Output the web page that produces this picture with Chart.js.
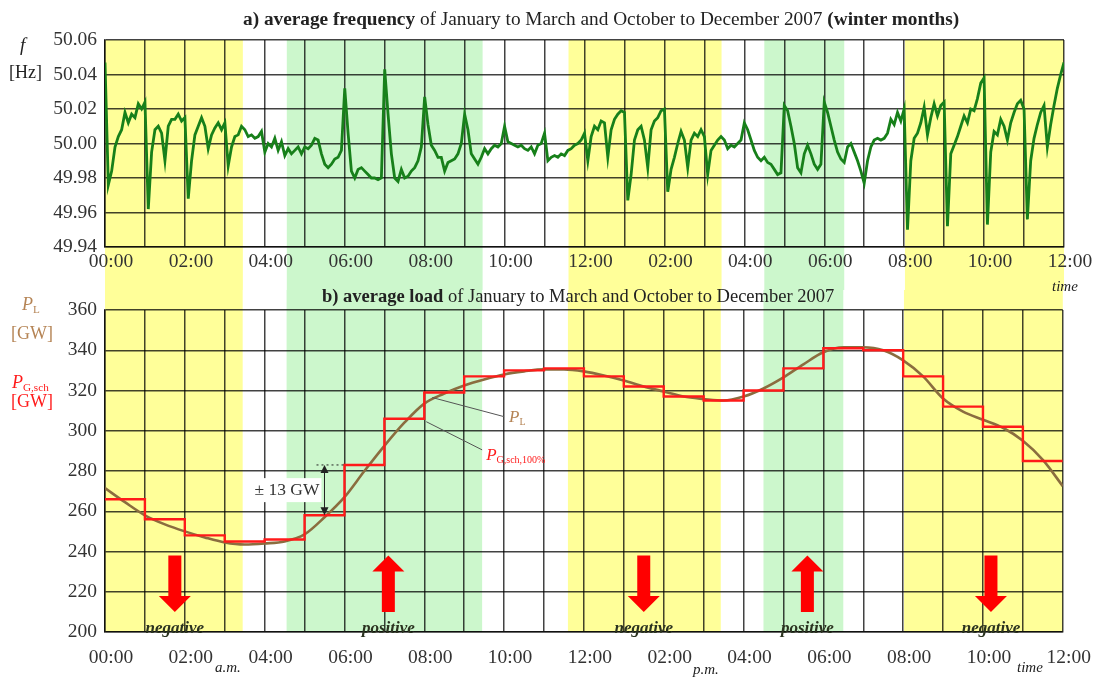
<!DOCTYPE html>
<html>
<head>
<meta charset="utf-8">
<title>Average frequency and load, winter months 2007</title>
<script src="https://cdn.jsdelivr.net/npm/chart.js@4/dist/chart.umd.min.js"></script>
<style>
  body { margin: 0; background: #fff; }
  #wrap { position: relative; width: 1099px; height: 677px; overflow: hidden; font-family: "Liberation Serif", "Times New Roman", serif; color: #222; }
  #wrap canvas { position: absolute; left: 0; }
  .lbl { position: absolute; white-space: nowrap; line-height: 1; }
  .it { font-style: italic; }
  sub { font-size: 62%; vertical-align: -0.3em; }
</style>
</head>
<body>
<div id="wrap">
  <canvas id="freqChart" width="1099" height="290" style="top:0"></canvas>
  <canvas id="loadChart" width="1099" height="387" style="top:290px"></canvas>

  <div class="lbl" style="left:243px;top:9px;font-size:19.3px"><b>a) average frequency</b> of January to March and October to December 2007 <b>(winter months)</b></div>
  <div class="lbl" style="left:322px;top:287px;font-size:18.5px"><b>b) average load</b> of January to March and October to December 2007</div>

  <div class="lbl it" style="left:20px;top:35px;font-size:19px">f</div>
  <div class="lbl" style="left:9px;top:63px;font-size:18px">[Hz]</div>
  <div class="lbl" style="left:22px;top:295px;font-size:18px;color:#b58455"><span class="it">P</span><sub>L</sub></div>
  <div class="lbl" style="left:11px;top:324px;font-size:18px;color:#b58455">[GW]</div>
  <div class="lbl" style="left:12px;top:373px;font-size:18px;color:#ff1a1a"><span class="it">P</span><sub>G,sch</sub></div>
  <div class="lbl" style="left:11px;top:392px;font-size:18px;color:#ff1a1a">[GW]</div>

  <div class="lbl it" style="left:1052px;top:279px;font-size:15px">time</div>
  <div class="lbl it" style="left:1017px;top:660px;font-size:15px">time</div>
  <div class="lbl it" style="left:215px;top:660px;font-size:15px">a.m.</div>
  <div class="lbl it" style="left:693px;top:662px;font-size:15px">p.m.</div>
</div>

<script>
// clock labels every two hours, midnight to midnight
const hourLabels = ["00:00", "02:00", "04:00", "06:00", "08:00", "10:00", "12:00",
                    "02:00", "04:00", "06:00", "08:00", "10:00", "12:00"];

// shaded periods (hours): yellow = negative reserve, green = positive reserve
const bandStart = [0, 4.55, 11.6, 16.5, 20.02];
const bandEnd   = [3.45, 9.45, 15.43, 18.5, 24];
const bandKind  = ["neg", "pos", "neg", "pos", "neg"];

// average frequency in Hz, one value every 5 minutes from 00:00 to 24:00
const freqStepMin = 5;
const freqValues = [
  50.047, 49.976, 49.984, 49.998, 50.004, 50.008, 50.018, 50.012, 50.017, 50.015, 50.023, 50.020, 50.024,
  49.962, 49.995, 50.008, 50.010, 50.006, 49.990, 50.010, 50.014, 50.014, 50.017, 50.013, 50.015,
  49.968, 49.990, 50.005, 50.010, 50.015, 50.010, 49.997, 50.005, 50.009, 50.012, 50.008, 50.012,
  49.987, 49.998, 50.004, 50.005, 50.010, 50.008, 50.004, 50.005, 50.003, 50.004, 50.007, 49.995,
  50.000, 49.998, 50.003, 49.996, 50.001, 49.993, 49.997, 49.994, 49.996, 49.998, 49.994, 49.998,
  49.997, 49.999, 50.003, 50.002, 49.994, 49.988, 49.986, 49.988, 49.991, 49.992, 49.996, 50.032,
  50.006, 49.984, 49.980, 49.985, 49.986, 49.984, 49.982, 49.980, 49.980, 49.979, 49.980, 50.043,
  50.017, 49.994, 49.980, 49.978, 49.985, 49.980, 49.981, 49.984, 49.986, 49.990, 49.998, 50.027,
  50.011, 49.999, 49.996, 49.992, 49.992, 49.984, 49.989, 49.990, 49.991, 49.994, 50.000, 50.017,
  50.008, 49.994, 49.991, 49.988, 49.992, 49.997, 49.994, 49.997, 49.999, 49.998, 50.000, 50.010,
  50.001, 50.000, 49.999, 49.998, 49.999, 49.997, 49.996, 49.998, 49.994, 49.999, 50.000, 50.006,
  49.990, 49.992, 49.993, 49.992, 49.994, 49.993, 49.996, 49.997, 49.999, 50.000, 50.002, 50.006,
  49.990, 50.004, 50.010, 50.008, 50.013, 50.012, 49.992, 50.008, 50.014, 50.017, 50.019, 50.018,
  49.967, 49.982, 50.002, 50.008, 50.010, 50.002, 49.986, 50.008, 50.013, 50.015, 50.019, 50.020,
  49.972, 49.985, 49.992, 50.000, 50.007, 50.002, 49.986, 50.002, 50.006, 50.004, 50.008, 50.004,
  49.982, 49.996, 49.999, 50.002, 50.004, 50.002, 49.997, 49.999, 49.998, 50.000, 50.002, 50.012,
  50.008, 50.002, 49.996, 49.992, 49.990, 49.992, 49.989, 49.988, 49.985, 49.982, 49.983, 50.022,
  50.019, 50.010, 50.000, 49.986, 49.983, 49.994, 49.999, 49.994, 49.988, 49.985, 49.988, 50.024,
  50.018, 50.010, 50.002, 49.995, 49.991, 49.989, 49.998, 50.000, 49.995, 49.990, 49.984, 49.977,
  49.990, 49.998, 50.002, 50.003, 50.002, 50.003, 50.006, 50.014, 50.011, 50.018, 50.013, 50.020,
  49.950, 49.990, 50.003, 50.006, 50.012, 50.021, 50.005, 50.015, 50.023, 50.016, 50.022, 50.024,
  49.952, 49.994, 49.999, 50.004, 50.010, 50.016, 50.012, 50.020, 50.019, 50.026, 50.035, 50.038,
  49.953, 49.995, 50.007, 50.005, 50.014, 50.010, 50.002, 50.012, 50.018, 50.023, 50.025, 50.020,
  49.956, 49.990, 50.003, 50.011, 50.018, 50.022, 49.998, 50.011, 50.022, 50.032, 50.040, 50.047
];

// average load P_L in GW, every half hour
const loadHours = [0, 0.5, 1, 1.5, 2, 2.5, 3, 3.5, 4, 4.5, 5, 5.5, 6, 6.5, 7, 7.5, 8, 8.5, 9, 9.5,
                   10, 10.5, 11, 11.5, 12, 12.5, 13, 13.5, 14, 14.5, 15, 15.5, 16, 16.5, 17, 17.5,
                   18, 18.5, 19, 19.5, 20, 20.5, 21, 21.5, 22, 22.5, 23, 23.5, 24];
const loadValues = [271.5, 264.5, 258, 253.5, 250, 247, 244.5, 243.5, 244, 245, 248.5, 257, 267, 280,
                    292.5, 304, 313.5, 318.5, 322.5, 325.5, 328, 329.5, 330.5, 330.5, 329.5, 327.5,
                    325, 322, 319.5, 317, 315.8, 315, 317, 321, 326.5, 333, 339, 341.5, 341.5, 340,
                    335, 327, 316, 309.5, 305.5, 301.5, 295, 285.5, 272.5];

// scheduled generation P_G,sch,100% in GW, one block per hour (00-01 ... 23-24)
const schedValues = [266, 256, 248, 245, 246, 258, 283, 306, 319, 327, 330, 331,
                     327, 322, 317, 315, 320, 331, 341, 340, 327, 312, 302, 285];

// reserve direction arrows and their captions
const arrowHours = [1.75, 7.1, 13.5, 17.6, 22.2];
const arrowDirs  = ["down", "up", "down", "up", "down"];
const arrowSpan  = [210, 238];            // GW range covered by each arrow
const arrowCaptions = ["negative", "positive", "negative", "positive", "negative"];

// +/- band around the schedule and curve leaders
const spreadHour = 5.5;
const leaderPL = [[8.2, 316.5], [10.0, 307]];
const leaderPG = [[8.05, 304.5], [9.45, 290.5]];

const SERIF = '"Liberation Serif", "Times New Roman", serif';
const YELLOW = "#ffff99";
const GREEN = "#ccf7cc";
const GRID = "rgba(0, 0, 0, 0.74)";
const GRID_W = 1.5;

Chart.defaults.font.family = SERIF;
Chart.defaults.font.size = 19.5;
Chart.defaults.color = "#333";

const freqPoints = freqValues.map((v, i) => ({ x: (i * freqStepMin) / 60, y: v }));
const loadPoints = loadValues.map((v, i) => ({ x: loadHours[i], y: v }));
const schedPoints = schedValues.map((v, h) => ({ x: h, y: v }));
schedPoints.push({ x: 24, y: schedValues[schedValues.length - 1] });

// shaded periods; the top chart extends them down to its canvas bottom,
// the bottom chart extends them up to its canvas top, so they read as one strip
const bandsPlugin = {
  id: "bands",
  beforeDraw(chart, args, opts) {
    const { ctx, chartArea, scales } = chart;
    const y0 = opts.extend === "up" ? 0 : chartArea.top;
    const y1 = opts.extend === "up" ? chartArea.bottom : chart.height;
    ctx.save();
    bandStart.forEach((s, i) => {
      const xa = scales.x.getPixelForValue(s);
      const xb = scales.x.getPixelForValue(bandEnd[i]);
      ctx.fillStyle = bandKind[i] === "neg" ? YELLOW : GREEN;
      ctx.fillRect(xa, y0, xb - xa, y1 - y0);
    });
    ctx.restore();
  },
};

function blockArrow(ctx, x, yTail, yTip) {
  const dir = yTip > yTail ? 1 : -1;
  const headLen = 16, shaftHalf = 6.5, headHalf = 16;
  const yNeck = yTip - dir * headLen;
  ctx.beginPath();
  ctx.moveTo(x - shaftHalf, yTail);
  ctx.lineTo(x + shaftHalf, yTail);
  ctx.lineTo(x + shaftHalf, yNeck);
  ctx.lineTo(x + headHalf, yNeck);
  ctx.lineTo(x, yTip);
  ctx.lineTo(x - headHalf, yNeck);
  ctx.lineTo(x - shaftHalf, yNeck);
  ctx.closePath();
  ctx.fill();
}

function smallHead(ctx, x, y, dir) {
  ctx.beginPath();
  ctx.moveTo(x, y);
  ctx.lineTo(x - 4, y - dir * 8);
  ctx.lineTo(x + 4, y - dir * 8);
  ctx.closePath();
  ctx.fill();
}

const loadNotesPlugin = {
  id: "loadNotes",
  afterDatasetsDraw(chart) {
    const { ctx, scales } = chart;
    const px = (h) => scales.x.getPixelForValue(h);
    const py = (v) => scales.y.getPixelForValue(v);
    ctx.save();

    // big reserve arrows
    ctx.fillStyle = "#ff0000";
    arrowHours.forEach((h, i) => {
      const x = px(h);
      if (arrowDirs[i] === "down") blockArrow(ctx, x, py(arrowSpan[1]), py(arrowSpan[0]));
      else blockArrow(ctx, x, py(arrowSpan[0]), py(arrowSpan[1]));
    });

    // captions under the arrows
    ctx.fillStyle = "#2b3320";
    ctx.font = "italic bold 17px " + SERIF;
    ctx.textAlign = "center";
    ctx.textBaseline = "middle";
    arrowHours.forEach((h, i) => ctx.fillText(arrowCaptions[i], px(h), py(201.5)));

    // +/- spread between two schedule blocks
    const sTop = schedValues[6], sBot = schedValues[5];
    const ax = px(spreadHour);
    ctx.strokeStyle = "#222";
    ctx.fillStyle = "#222";
    ctx.lineWidth = 1;
    ctx.setLineDash([2, 3]);
    ctx.beginPath();
    ctx.moveTo(px(5.3), py(sTop));
    ctx.lineTo(px(6), py(sTop));
    ctx.stroke();
    ctx.setLineDash([]);
    ctx.beginPath();
    ctx.moveTo(ax, py(sTop) + 4);
    ctx.lineTo(ax, py(sBot) - 4);
    ctx.stroke();
    smallHead(ctx, ax, py(sTop), -1);
    smallHead(ctx, ax, py(sBot), 1);

    const half = Math.round((sTop - sBot) / 2);
    const txt = "\u00b1 " + half + " GW";
    ctx.font = "17.5px " + SERIF;
    const tw = ctx.measureText(txt).width;
    const ym = py((sTop + sBot) / 2);
    ctx.fillStyle = "#fff";
    ctx.fillRect(ax - tw - 9, ym - 12, tw + 6, 24);
    ctx.fillStyle = "#333";
    ctx.textAlign = "right";
    ctx.fillText(txt, ax - 5, ym);

    // leader lines to the curve names
    ctx.strokeStyle = "#555";
    ctx.lineWidth = 1;
    [leaderPL, leaderPG].forEach((ld) => {
      ctx.beginPath();
      ctx.moveTo(px(ld[0][0]), py(ld[0][1]));
      ctx.lineTo(px(ld[1][0]), py(ld[1][1]));
      ctx.stroke();
    });

    ctx.textAlign = "left";
    ctx.textBaseline = "middle";
    function subLabel(main, sub, x, y, color) {
      ctx.fillStyle = color;
      ctx.font = "italic 17px " + SERIF;
      ctx.fillText(main, x, y);
      const w = ctx.measureText(main).width;
      ctx.font = "10px " + SERIF;
      ctx.fillText(sub, x + w, y + 5);
    }
    subLabel("P", "L", px(leaderPL[1][0]) + 5, py(leaderPL[1][1]) + 1, "#b58455");
    subLabel("P", "G,sch,100%", px(leaderPG[1][0]) + 4, py(leaderPG[1][1]) + 6, "#ff1a1a");

    ctx.restore();
  },
};

function hourAxis(bottomPad) {
  return {
    type: "linear",
    min: 0,
    max: 24,
    grid: { color: GRID, lineWidth: GRID_W, drawTicks: false },
    border: { color: GRID, width: GRID_W },
    ticks: {
      stepSize: 1,
      autoSkip: false,
      maxRotation: 0,
      padding: bottomPad,
      labelOffset: 6,
      callback: (v) => (v % 2 === 0 ? hourLabels[v / 2] : ""),
    },
  };
}

new Chart(document.getElementById("freqChart"), {
  type: "line",
  data: {
    datasets: [{
      label: "f",
      data: freqPoints,
      borderColor: "#17801a",
      borderWidth: 2.8,
      pointRadius: 0,
      tension: 0,
    }],
  },
  options: {
    responsive: false,
    animation: false,
    layout: { padding: { left: 0, right: 35, top: 40, bottom: 0 } },
    plugins: { legend: { display: false }, tooltip: { enabled: false }, bands: { extend: "down" } },
    scales: {
      x: Object.assign(hourAxis(3), { afterFit: (s) => { s.height = 43; } }),
      y: {
        min: 49.94,
        max: 50.06,
        grid: { color: GRID, lineWidth: GRID_W, drawTicks: false },
        border: { color: GRID, width: GRID_W },
        ticks: { stepSize: 0.02, padding: 8, callback: (v) => Number(v).toFixed(2) },
        afterFit: (s) => { s.width = 105; },
      },
    },
  },
  plugins: [bandsPlugin],
});

new Chart(document.getElementById("loadChart"), {
  type: "line",
  data: {
    datasets: [
      {
        label: "P_G,sch,100%",
        data: schedPoints,
        borderColor: "#ff1a1a",
        borderWidth: 2.4,
        pointRadius: 0,
        stepped: "before",
      },
      {
        label: "P_L",
        data: loadPoints,
        borderColor: "#8b6d3f",
        borderWidth: 2.6,
        pointRadius: 0,
        cubicInterpolationMode: "monotone",
      },
    ],
  },
  options: {
    responsive: false,
    animation: false,
    layout: { padding: { left: 0, right: 35, top: 20, bottom: 0 } },
    plugins: { legend: { display: false }, tooltip: { enabled: false }, bands: { extend: "up" } },
    scales: {
      x: Object.assign(hourAxis(14), { afterFit: (s) => { s.height = 45; } }),
      y: {
        min: 200,
        max: 360,
        grid: { color: GRID, lineWidth: GRID_W, drawTicks: false },
        border: { color: GRID, width: GRID_W },
        ticks: { stepSize: 20, padding: 8 },
        afterFit: (s) => { s.width = 105; },
      },
    },
  },
  plugins: [bandsPlugin, loadNotesPlugin],
});
</script>
</body>
</html>
